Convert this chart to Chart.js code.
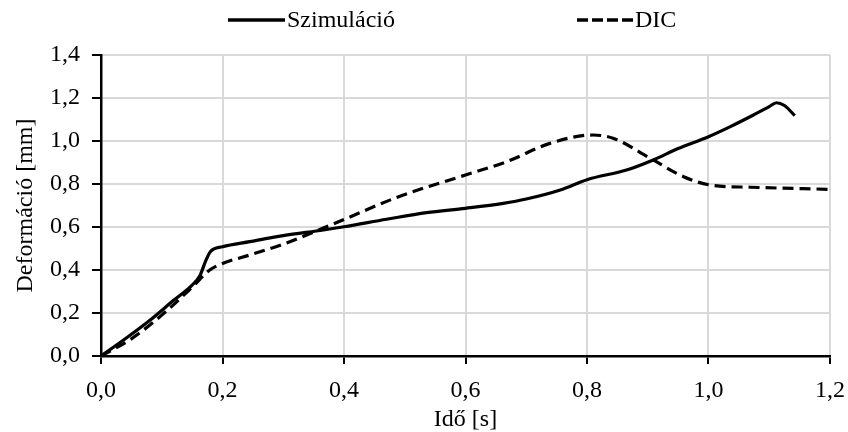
<!DOCTYPE html>
<html>
<head>
<meta charset="utf-8">
<script src="https://cdn.jsdelivr.net/npm/chart.js@4"></script>
<style>
    html, body { margin: 0; padding: 0; background: #fff; }
    #wrap { position: relative; width: 848px; height: 432px; }
    .leg { position: absolute; top: 6px; display: flex; align-items: center;
           font: 24px "Liberation Serif", serif; color: #000; }
    .leg svg { margin-right: 2px; }
</style>
</head>
<body>
<div id="wrap">
    <canvas id="chart" width="848" height="432"></canvas>
    <div class="leg" style="left:228px"><svg width="57" height="6"><line x1="0" y1="3" x2="57" y2="3" stroke="#000" stroke-width="3.5"/></svg>Szimuláció</div>
    <div class="leg" style="left:577px"><svg width="56" height="6"><line x1="0" y1="3" x2="56" y2="3" stroke="#000" stroke-width="3.5" stroke-dasharray="11 4"/></svg>DIC</div>
</div>
<script>
// Szimuláció
const simTime = [0, 0.04, 0.08, 0.12, 0.15, 0.163, 0.172, 0.18, 0.2, 0.245, 0.3, 0.366, 0.4, 0.47, 0.536, 0.6, 0.662, 0.7, 0.756, 0.8, 0.865, 0.909, 0.95, 1.0, 1.036, 1.074, 1.1, 1.112, 1.125, 1.142];
const simDef  = [0, 0.08, 0.165, 0.26, 0.33, 0.375, 0.44, 0.485, 0.508, 0.532, 0.56, 0.586, 0.601, 0.636, 0.667, 0.687, 0.71, 0.73, 0.772, 0.82, 0.865, 0.912, 0.965, 1.02, 1.067, 1.121, 1.16, 1.178, 1.165, 1.118];

// DIC
const dicTime = [0, 0.05, 0.1, 0.15, 0.179, 0.2, 0.245, 0.3, 0.366, 0.4, 0.49, 0.6, 0.668, 0.739, 0.81, 0.844, 0.904, 0.959, 1.003, 1.069, 1.2];
const dicDef  = [0, 0.08, 0.19, 0.32, 0.40, 0.43, 0.47, 0.52, 0.595, 0.635, 0.741, 0.842, 0.904, 0.989, 1.028, 1.012, 0.92, 0.834, 0.795, 0.785, 0.775];

const fmt = v => v.toFixed(1).replace('.', ',');
const serif = { family: '"Liberation Serif", serif', size: 24 };

const toPoints = (xs, ys) => xs.map((x, i) => ({ x, y: ys[i] }));

new Chart(document.getElementById('chart'), {
    type: 'line',
    data: {
        datasets: [{
            label: 'Szimuláció',
            data: toPoints(simTime, simDef),
            borderColor: '#000',
            borderWidth: 3.2,
            pointRadius: 0,
            cubicInterpolationMode: 'monotone'
        }, {
            label: 'DIC',
            data: toPoints(dicTime, dicDef),
            borderColor: '#000',
            borderWidth: 3.2,
            borderDash: [11, 6],
            pointRadius: 0,
            cubicInterpolationMode: 'monotone'
        }]
    },
    options: {
        responsive: false,
        animation: false,
        layout: { padding: { top: 55, right: 18, left: 14, bottom: 0 } },
        plugins: { legend: { display: false }, tooltip: { enabled: false } },
        scales: {
            x: {
                type: 'linear',
                min: 0, max: 1.2,
                afterFit: s => { s.height = 76; s.paddingRight = 0; s.paddingLeft = 0; },
                ticks: { stepSize: 0.2, callback: fmt, color: '#000', font: serif, padding: 12, maxRotation: 0 },
                grid: { color: '#d9d9d9', lineWidth: 2, tickColor: '#000', tickLength: 8, tickWidth: 2 },
                border: { color: '#000', width: 2.5 },
                title: { display: true, text: 'Idő [s]', color: '#000', font: { ...serif, lineHeight: 1 }, padding: 0 }
            },
            y: {
                min: 0, max: 1.4,
                afterFit: s => { s.width = 87; },
                ticks: { stepSize: 0.2, callback: fmt, color: '#000', font: serif, padding: 12 },
                grid: { color: '#d9d9d9', lineWidth: 2, tickColor: '#000', tickLength: 9, tickWidth: 2 },
                border: { color: '#000', width: 2.5 },
                title: { display: true, text: 'Deformáció [mm]', color: '#000', font: { ...serif, lineHeight: 1 }, padding: 0 }
            }
        }
    }
});
</script>
</body>
</html>
